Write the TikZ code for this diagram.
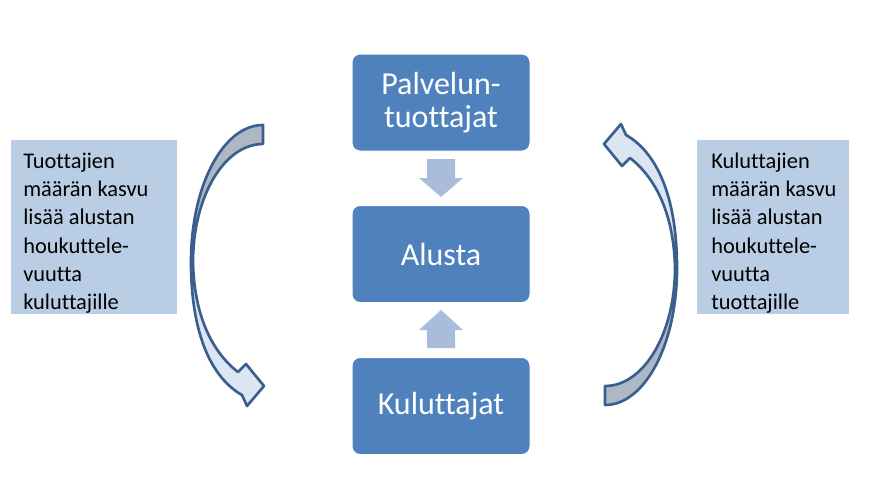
\documentclass[tikz,border=0pt]{standalone}
\usepackage{fontspec}
\setmainfont{Carlito}[Ligatures={NoCommon,NoRare,NoContextual}]
\usetikzlibrary{calc}
\definecolor{boxblue}{HTML}{4F81BD}
\definecolor{sidebox}{HTML}{B9CDE5}
\definecolor{blockarr}{HTML}{A9BCDB}
\definecolor{arrline}{HTML}{3A5F8E}
\definecolor{arrlight}{HTML}{DCE6F2}
\definecolor{arrgray}{HTML}{AEB8C5}
\tikzset{
  mainbox/.style={rectangle, rounded corners=6pt, fill=boxblue, draw=white, line width=0.75pt,
    minimum width=133.5pt, minimum height=72.75pt, text=white, align=center,
    font=\fontsize{24}{24.75}\selectfont, inner sep=0pt},
  sidebg/.style={rectangle, fill=sidebox, inner sep=0pt, anchor=north west},
  sidetext/.style={anchor=base west, inner sep=0pt, text=black,
    font=\fontsize{16.8}{21.25}\selectfont},
  blockarrow/.style={fill=blockarr, draw=none},
  curvline/.style={draw=arrline, line width=2pt, line join=round},
  curvarrow/.pic={
    \path[curvline, fill=arrlight]
      (191,262) .. controls (191,335) and (212,378) .. (242,395)
      -- (247,406) -- (264,386) -- (246,364) -- (238,372)
      .. controls (212,352) and (194,315) .. (193,262) -- cycle;
    \path[curvline, fill=arrgray]
      (263,125) .. controls (223,125) and (191,186) .. (191,262)
      -- (193,262) .. controls (193,197) and (224,144) .. (263,144) -- cycle;
  }
}
\begin{document}
\begin{tikzpicture}[x=0.75pt, y=-0.75pt]
\useasboundingbox (0,0) rectangle (875,501);
% main boxes
\node[mainbox] (prod) at (441,102.5) {Palvelun-\\tuottajat};
\node[mainbox] (plat) at (441,254) {Alusta};
\node[mainbox] (cons) at (441,406) {Kuluttajat};
% block arrows
\path[blockarrow] (427,159) -- (455,159) -- (455,178) -- (463,178) -- (441,197)
  -- (419,178) -- (427,178) -- cycle;
\path[blockarrow] (427,348) -- (455,348) -- (455,330) -- (463,330) -- (441,310)
  -- (419,330) -- (427,330) -- cycle;
% side boxes
\node[sidebg, minimum width=124.5pt, minimum height=130.5pt] (lbox) at (11,140) {};
\node[sidetext] (ltext) at (23,168) {\parbox[t]{120pt}{\raggedright Tuottajien\\ määrän kasvu\\ lisää alustan\\ houkuttele-\\ vuutta\\ kuluttajille}};
\node[sidebg, minimum width=114pt, minimum height=130.5pt] (rbox) at (697,140) {};
\node[sidetext] (rtext) at (711,168) {\parbox[t]{110pt}{\raggedright Kuluttajien\\ määrän kasvu\\ lisää alustan\\ houkuttele-\\ vuutta\\ tuottajille}};
% curved arrows
\pic (larrow) at (0,0) {curvarrow};
\pic[rotate=180] (rarrow) at (868,530) {curvarrow};
\end{tikzpicture}
\end{document}
